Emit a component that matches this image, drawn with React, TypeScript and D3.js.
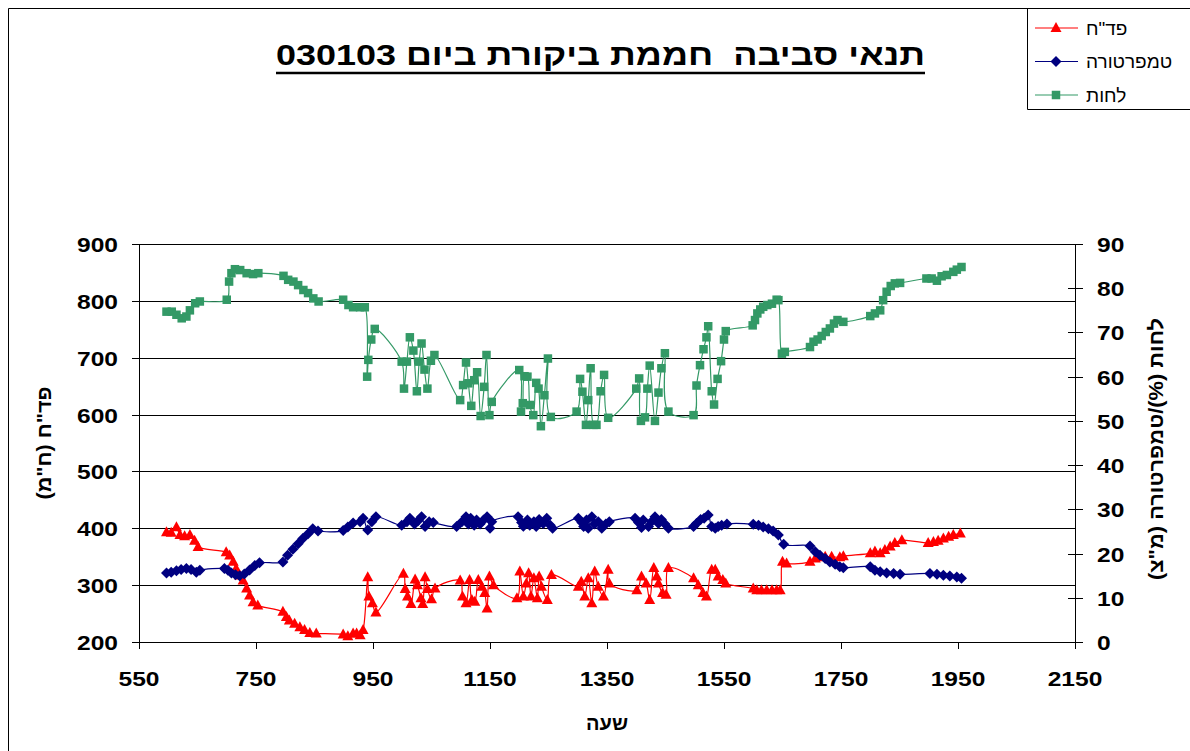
import React from "react";
import * as d3 from "d3";

// ---- data (time as HHMM) ----
const parTimes = [597,605,614,620,628,637,645,651,699,705,711,716,722,728,734,739,745,753,796,802,807,816,825,833,842,853,899,907,916,922,928,933,941,943,949,955,1002,1005,1009,1015,1022,1026,1032,1035,1039,1043,1050,1056,1099,1103,1109,1115,1119,1124,1130,1136,1141,1145,1149,1156,1196,1201,1207,1212,1216,1220,1225,1231,1234,1238,1248,1255,1301,1306,1312,1318,1324,1329,1335,1344,1352,1354,1401,1409,1417,1423,1430,1435,1438,1445,1451,1455,1498,1506,1514,1520,1529,1535,1540,1548,1553,1600,1606,1614,1623,1632,1640,1646,1650,1657,1697,1706,1714,1723,1734,1748,1754,1800,1808,1817,1825,1834,1842,1854,1899,1908,1916,1925,1934,1942,1954];
const parValues = [393,392,402,388,386,388,378,367,358,352,341,329,317,308,294,282,270,264,253,244,238,232,226,221,216,215,213,210,215,215,212,221,314,280,268,252,320,293,280,267,310,300,277,267,314,293,275,294,308,280,268,309,274,271,309,297,286,259,315,300,277,324,280,303,321,280,312,277,315,297,274,318,297,306,280,312,268,324,297,280,327,303,291,315,303,274,330,315,303,286,283,330,312,300,286,280,327,327,315,309,303,294,291,291,291,291,291,291,341,338,341,347,349,350,350,349,351,356,359,356,362,368,374,379,374,376,378,382,385,388,391];

const tempTimes = [597,605,614,622,631,639,648,654,696,702,708,715,722,730,739,748,756,796,804,813,822,830,839,847,856,899,907,916,928,933,941,948,955,999,1008,1013,1021,1027,1033,1039,1046,1053,1093,1102,1109,1113,1117,1123,1127,1133,1139,1145,1150,1153,1198,1204,1207,1214,1218,1225,1229,1234,1241,1247,1253,1257,1301,1307,1310,1315,1318,1324,1329,1335,1341,1348,1354,1398,1404,1409,1412,1421,1426,1432,1438,1443,1449,1455,1498,1503,1510,1516,1523,1529,1535,1540,1546,1555,1600,1609,1617,1626,1634,1643,1652,1697,1706,1714,1723,1731,1740,1748,1754,1800,1808,1817,1828,1840,1851,1902,1914,1925,1936,1948,1956];
const tempValues = [15.6,15.8,16.1,16.4,16.6,16.4,15.8,16.2,16.6,16.2,15.6,15.2,15.0,15.4,16.3,17.3,17.9,18.1,19.6,21.0,22.2,23.4,24.5,25.6,25.1,25.2,26.0,26.9,27.2,28.0,25.3,27.2,28.3,26.4,27.2,28.0,26.7,27.4,28.3,26.1,27.2,27.0,26.1,27.2,28.3,26.7,28.0,26.4,27.6,26.7,27.6,28.3,25.7,27.2,28.3,27.0,26.2,27.6,26.4,27.2,26.1,27.7,26.8,28.0,26.4,25.7,28.0,27.0,26.1,27.6,25.7,28.3,26.7,27.2,25.7,26.7,27.2,28.0,27.0,25.9,27.6,26.1,27.2,28.3,26.8,27.7,26.7,25.7,26.1,26.8,27.7,28.0,28.7,26.1,25.7,26.1,26.4,26.7,26.6,26.4,26.0,25.6,25.1,24.2,22.1,21.7,20.4,19.6,18.9,18.1,17.6,17.0,16.8,17.0,16.2,15.9,15.6,15.5,15.3,15.5,15.3,15.1,14.9,14.7,14.4];

const humTimes = [597,606,614,623,631,637,646,654,700,704,708,714,723,734,745,754,797,805,814,822,831,839,848,857,899,908,916,928,936,940,942,947,953,999,1003,1008,1013,1019,1025,1029,1033,1038,1043,1049,1055,1099,1104,1109,1113,1118,1123,1128,1134,1140,1144,1149,1153,1200,1203,1206,1209,1214,1218,1224,1229,1233,1237,1243,1249,1254,1298,1304,1308,1314,1318,1322,1327,1332,1339,1345,1352,1400,1405,1408,1415,1419,1423,1432,1438,1443,1449,1455,1498,1503,1509,1515,1520,1523,1529,1533,1539,1545,1550,1553,1599,1603,1607,1612,1617,1624,1632,1640,1643,1649,1654,1697,1703,1710,1717,1724,1731,1738,1744,1754,1800,1808,1817,1822,1828,1835,1842,1851,1896,1905,1914,1922,1931,1942,1948,1956];
const humValues = [74.7,74.7,74.0,73.2,73.6,75.0,76.6,77.0,77.4,81.5,83.4,84.3,84.1,83.4,83.2,83.4,82.8,81.9,81.5,80.7,79.6,78.9,77.7,77.0,77.4,76.2,75.7,75.7,75.7,60.0,63.8,68.4,70.8,63.4,57.3,63.4,68.9,65.9,56.7,63.4,67.5,61.6,57.3,63.6,64.9,54.7,58.1,63.2,58.5,53.4,59.2,61.0,51.1,57.7,64.9,51.3,54.3,61.5,52.1,54.0,60.1,60.0,53.6,51.3,58.6,57.3,48.8,55.8,64.1,50.9,52.1,59.5,56.6,49.1,54.7,61.9,49.1,49.1,56.7,60.4,50.7,57.3,59.6,50.0,50.8,57.3,62.5,50.0,56.4,61.9,65.3,52.1,51.3,58.0,62.6,66.2,68.9,71.4,56.7,53.7,59.5,63.5,68.4,70.3,71.6,72.8,74.3,75.2,75.8,76.2,76.5,77.4,77.3,65.2,65.6,66.7,67.9,68.4,69.2,70.1,70.9,72.0,72.8,72.4,73.7,74.3,75.0,77.3,79.2,80.5,81.1,81.2,82.2,82.2,81.7,82.7,83.0,83.7,84.2,84.8];

const xTicks = [550,750,950,1150,1350,1550,1750,1950,2150];
const leftTicks = [200,300,400,500,600,700,800,900];
const rightTicks = [0,10,20,30,40,50,60,70,80,90];

const titleText = "תנאי סביבה  חממת ביקורת ביום 030103";
const leftTitle = 'פד"ח (ח"מ)';
const rightTitle = 'לחות (%)/טמפרטורה (מ"צ)';
const xTitle = "שעה";
const legendNames = ['פד"ח', "טמפרטורה", "לחות"];

const RED = "#FF0000";
const NAVY = "#000080";
const GREEN = "#339966";
const FONT = "'Liberation Sans', Arial, sans-serif";

const x = d3.scaleLinear().domain([550, 2150]).range([139, 1075]);
const yL = d3.scaleLinear().domain([200, 900]).range([642, 244]);
const yR = d3.scaleLinear().domain([0, 90]).range([642, 244]);

type Kind = "tri" | "dia" | "sq";
function Marker({ cx, cy, kind, color }: { cx: number; cy: number; kind: Kind; color: string }) {
  if (kind === "tri") {
    return <path d={`M${cx},${cy - 6}L${cx + 5.5},${cy + 4}L${cx - 5.5},${cy + 4}Z`} fill={color} />;
  }
  if (kind === "dia") {
    return <path d={`M${cx},${cy - 5.5}L${cx + 5.5},${cy}L${cx},${cy + 5.5}L${cx - 5.5},${cy}Z`} fill={color} />;
  }
  return <rect x={cx - 4.25} y={cy - 4.25} width={8.5} height={8.5} fill={color} />;
}

function Series({ times, values, y, color, kind }: { times: number[]; values: number[]; y: d3.ScaleLinear<number, number>; color: string; kind: Kind }) {
  const pts: [number, number][] = times.map((t, i) => [x(t), y(values[i])]);
  const line = d3.line().curve(d3.curveCatmullRom.alpha(0.5))(pts) || "";
  return (
    <g>
      <path d={line} fill="none" stroke={color} strokeWidth={1.2} />
      {pts.map((p, i) => (
        <Marker key={i} cx={p[0]} cy={p[1]} kind={kind} color={color} />
      ))}
    </g>
  );
}

export default function App() {
  const sx = 1.17;
  return (
    <svg
      width={1190}
      height={751}
      style={{ position: "fixed", left: 0, top: 0, background: "#fff" }}
      fontFamily={FONT}
    >
      <rect x={0} y={0} width={1190} height={751} fill="#fff" />
      {/* outer frame */}
      <path d="M8.5,751V8.5H1190" fill="none" stroke="#000" strokeWidth={1} />

      {/* title */}
      <text
        x={600.5}
        y={65}
        textAnchor="middle"
        fontSize={30}
        fontWeight="bold"
        style={{ direction: "rtl", whiteSpace: "pre" }}
        textLength={649}
        lengthAdjust="spacingAndGlyphs"
      >
        {titleText}
      </text>
      <line x1={276} x2={925} y1={73} y2={73} stroke="#000" strokeWidth={2.5} />

      {/* gridlines */}
      {leftTicks.map((v) => (
        <line key={v} x1={139} x2={1075} y1={Math.round(yL(v)) + 0.5} y2={Math.round(yL(v)) + 0.5} stroke="#000" strokeWidth={1} />
      ))}
      {/* axes */}
      <line x1={139.5} x2={139.5} y1={244} y2={643} stroke="#000" />
      <line x1={1075.5} x2={1075.5} y1={244} y2={643} stroke="#000" />
      {leftTicks.map((v) => (
        <line key={"lt" + v} x1={132} x2={139} y1={Math.round(yL(v)) + 0.5} y2={Math.round(yL(v)) + 0.5} stroke="#000" />
      ))}
      {rightTicks.map((v) => (
        <line key={"rt" + v} x1={1068} x2={1083} y1={Math.round(yR(v)) + 0.5} y2={Math.round(yR(v)) + 0.5} stroke="#000" />
      ))}
      {xTicks.map((v) => (
        <line key={"xt" + v} x1={Math.round(x(v)) + 0.5} x2={Math.round(x(v)) + 0.5} y1={642} y2={649} stroke="#000" />
      ))}

      {/* tick labels */}
      {leftTicks.map((v) => (
        <text key={"ll" + v} transform={`translate(118,${yL(v) + 8}) scale(${sx},1)`} textAnchor="end" fontSize={21} fontWeight="bold">
          {v}
        </text>
      ))}
      {rightTicks.map((v) => (
        <text key={"rl" + v} transform={`translate(1097,${yR(v) + 8}) scale(${sx},1)`} textAnchor="start" fontSize={21} fontWeight="bold">
          {v}
        </text>
      ))}
      {xTicks.map((v) => (
        <text key={"xl" + v} transform={`translate(${x(v)},686) scale(${sx},1)`} textAnchor="middle" fontSize={21} fontWeight="bold">
          {v}
        </text>
      ))}

      {/* axis titles */}
      <text x={607} y={730} textAnchor="middle" fontSize={20} fontWeight="bold" style={{ direction: "rtl" }}>
        {xTitle}
      </text>
      <text
        transform="translate(51,443) rotate(-90)"
        textAnchor="middle"
        fontSize={20}
        fontWeight="bold"
        style={{ direction: "rtl" }}
        textLength={113}
        lengthAdjust="spacingAndGlyphs"
      >
        {leftTitle}
      </text>
      <text
        transform="translate(1163,449) rotate(-90)"
        textAnchor="middle"
        fontSize={20}
        fontWeight="bold"
        style={{ direction: "rtl" }}
        textLength={262}
        lengthAdjust="spacingAndGlyphs"
      >
        {rightTitle}
      </text>

      {/* series */}
      <Series times={parTimes} values={parValues} y={yL} color={RED} kind="tri" />
      <Series times={tempTimes} values={tempValues} y={yR} color={NAVY} kind="dia" />
      <Series times={humTimes} values={humValues} y={yR} color={GREEN} kind="sq" />

      {/* legend */}
      <path d="M1027.5,8.5V109.5H1190" fill="none" stroke="#000" />
      {[RED, NAVY, GREEN].map((c, i) => {
        const ly = 28 + i * 33.5;
        const kind: Kind = i === 0 ? "tri" : i === 1 ? "dia" : "sq";
        return (
          <g key={i}>
            <line x1={1035} x2={1078} y1={ly} y2={ly} stroke={c} strokeWidth={1.2} />
            <Marker cx={1056} cy={ly} kind={kind} color={c} />
            <text x={1086} y={ly + 6.5} fontSize={19}>
              {legendNames[i]}
            </text>
          </g>
        );
      })}
    </svg>
  );
}
